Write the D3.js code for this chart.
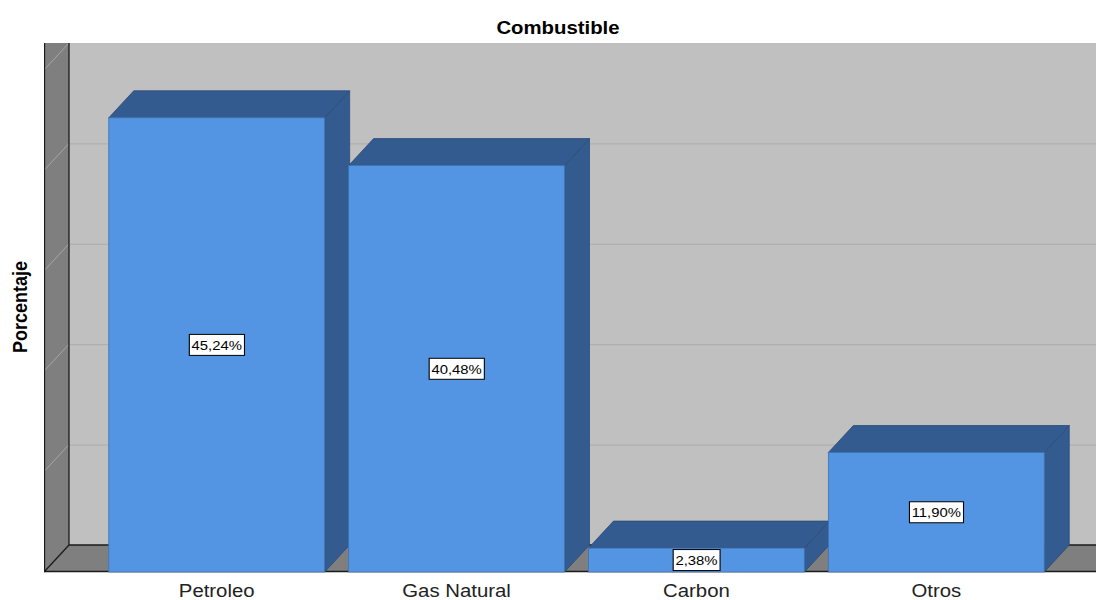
<!DOCTYPE html>
<html>
<head>
<meta charset="utf-8">
<script src="https://cdn.jsdelivr.net/npm/d3@7"></script>
<style>
  body { margin: 0; background: #fff; }
  text { font-family: "Liberation Sans", Arial, sans-serif; }
</style>
</head>
<body>
<svg id="chart" width="1096" height="600"></svg>
<script>
// data
const categories = ["Petroleo", "Gas Natural", "Carbon", "Otros"]
const percentages = [45.24, 40.48, 2.38, 11.90]
const labels = ["45,24%", "40,48%", "2,38%", "11,90%"]
const gridValues = [0, 10, 20, 30, 40, 50]

const width = 1096
const height = 600
// 3D depth offset
const dx = 25
const dy = 27
const stretch = 1.1 // text looks horizontally stretched in the original

const svg = d3.select("#chart")

// front plane scales
const x = d3.scaleBand().domain(categories).range([44, 1109]).paddingInner(0.1).paddingOuter(0.27)
const y = d3.scaleLinear().domain([0, 50]).range([572, 70])
const plotLeft = 44
const plotRight = width + 40
const plotTop = y(50) - dy

svg.append("defs").append("clipPath").attr("id", "plot")
  .append("rect").attr("x", plotLeft).attr("y", plotTop).attr("width", width - plotLeft).attr("height", height - plotTop)

const plot = svg.append("g").attr("clip-path", "url(#plot)")

// back wall
plot.append("rect")
  .attr("x", plotLeft + dx).attr("y", plotTop)
  .attr("width", plotRight - plotLeft - dx).attr("height", y(0) - dy - plotTop)
  .attr("fill", "#c0c0c0")

// grid lines on back wall
plot.selectAll(".grid").data(gridValues.slice(1, -1)).enter().append("line")
  .attr("x1", plotLeft + dx).attr("x2", plotRight)
  .attr("y1", (d) => y(d) - dy + 0.5).attr("y2", (d) => y(d) - dy + 0.5)
  .attr("stroke", "#acacac").attr("stroke-width", 1)

// left wall
plot.append("polygon")
  .attr("points", [[plotLeft, plotTop], [plotLeft + dx, plotTop], [plotLeft + dx, y(0) - dy], [plotLeft, y(0)]].join(" "))
  .attr("fill", "#7f7f7f")
plot.selectAll(".wallgrid").data(gridValues.slice(1)).enter().append("line")
  .attr("x1", plotLeft + dx).attr("y1", (d) => y(d) - dy)
  .attr("x2", plotLeft).attr("y2", (d) => y(d))
  .attr("stroke", "#a6a6a6").attr("stroke-width", 1)

// floor
plot.append("polygon")
  .attr("points", [[plotLeft, y(0)], [plotLeft + dx, y(0) - dy], [plotRight, y(0) - dy], [plotRight, y(0)]].join(" "))
  .attr("fill", "#7f7f7f")

// wall / floor edges
const edges = [
  [[plotLeft + 0.5, plotTop], [plotLeft + 0.5, y(0)]],
  [[plotLeft + dx, plotTop], [plotLeft + dx, y(0) - dy]],
  [[plotLeft + dx, y(0) - dy], [plotRight, y(0) - dy]],
  [[plotLeft, y(0)], [plotLeft + dx, y(0) - dy]],
  [[plotLeft, y(0) - 0.5], [plotRight, y(0) - 0.5]]
]
plot.selectAll(".edge").data(edges).enter().append("line")
  .attr("x1", (d) => d[0][0]).attr("y1", (d) => d[0][1])
  .attr("x2", (d) => d[1][0]).attr("y2", (d) => d[1][1])
  .attr("stroke", "#1a1a1a").attr("stroke-width", 1.3)

// bars
const bars = plot.selectAll(".bar")
  .data(categories.map((c, i) => ({ cat: c, value: percentages[i], label: labels[i] })))
  .enter().append("g").attr("class", "bar")

const w = x.bandwidth()
bars.append("polygon") // side face
  .attr("points", (d) => {
    const x0 = x(d.cat) + w
    return [[x0, y(d.value)], [x0 + dx, y(d.value) - dy], [x0 + dx, y(0) - dy], [x0, y(0)]].join(" ")
  })
  .attr("fill", "#345b8f").attr("stroke", "#2a4b77").attr("stroke-width", 0.8)
bars.append("polygon") // top face
  .attr("points", (d) => {
    const x0 = x(d.cat)
    const yt = y(d.value)
    return [[x0, yt], [x0 + dx, yt - dy], [x0 + w + dx, yt - dy], [x0 + w, yt]].join(" ")
  })
  .attr("fill", "#345b8f").attr("stroke", "#2a4b77").attr("stroke-width", 0.8)
bars.append("rect") // front face
  .attr("x", (d) => x(d.cat)).attr("y", (d) => y(d.value))
  .attr("width", w).attr("height", (d) => y(0) - y(d.value))
  .attr("fill", "#5495e3").attr("stroke", "#3f72b0").attr("stroke-width", 0.8)

// value labels
bars.each(function (d) {
  const g = d3.select(this).append("g")
    .attr("transform", `translate(${x(d.cat) + w / 2}, ${(y(d.value) + y(0)) / 2}) scale(${stretch},1)`)
  const t = g.append("text")
    .attr("text-anchor", "middle").attr("dy", "0.36em")
    .style("font-size", "13.5px").attr("fill", "#000")
    .text(d.label)
  const bb = t.node().getBBox()
  g.insert("rect", "text")
    .attr("x", bb.x - 2).attr("y", -10.5)
    .attr("width", bb.width + 4).attr("height", 21)
    .attr("fill", "#fff").attr("stroke", "#000").attr("stroke-width", 1)
})

// category labels
svg.selectAll(".cat").data(categories).enter().append("text")
  .attr("text-anchor", "middle")
  .attr("transform", (d) => `translate(${x(d) + w / 2}, 597) scale(${stretch},1)`)
  .style("font-size", "18.5px").attr("fill", "#222")
  .text((d) => d)

// title
svg.append("text")
  .attr("text-anchor", "middle")
  .attr("transform", `translate(558, 34) scale(${stretch},1)`)
  .style("font-size", "18.5px").style("font-weight", "bold")
  .text("Combustible")

// y axis title
svg.append("text")
  .attr("text-anchor", "middle")
  .attr("transform", `translate(27, 307) scale(${stretch},1) rotate(-90)`)
  .style("font-size", "18px").style("font-weight", "bold")
  .text("Porcentaje")
</script>
</body>
</html>
